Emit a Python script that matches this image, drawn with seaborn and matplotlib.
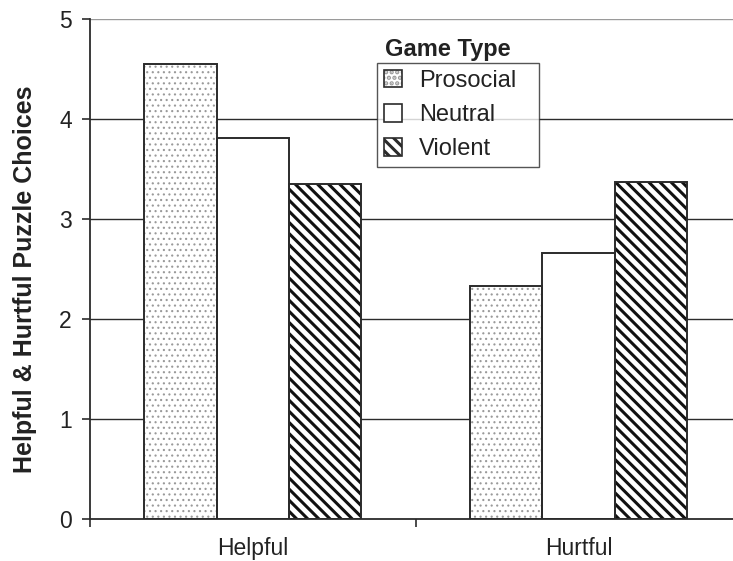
import matplotlib
matplotlib.use("Agg")
import matplotlib.pyplot as plt
from matplotlib.patches import Patch
from matplotlib import colors as mcolors
import seaborn as sns
import pandas as pd

categories = ["Helpful", "Hurtful"]
game_types = ["Prosocial", "Neutral", "Violent"]
prosocial = [4.55, 2.33]
neutral = [3.81, 2.66]
violent = [3.35, 3.37]
y_ticks = [0, 1, 2, 3, 4, 5]

rows = []
for gt, vals in zip(game_types, [prosocial, neutral, violent]):
    for c, v in zip(categories, vals):
        rows.append({"Choice": c, "Game Type": gt, "value": v})
df = pd.DataFrame(rows)

sns.set_theme(style="white")
plt.rcParams["font.family"] = ["Liberation Sans", "DejaVu Sans"]
plt.rcParams["hatch.linewidth"] = 2.2

dark = "#2b2b2b"
fig = plt.figure(figsize=(7.33, 5.61), dpi=100)
ax = fig.add_axes([90 / 733, (561 - 519.3) / 561, 1 - 90 / 733, 500 / 561])

# gridlines
for t in y_ticks[1:]:
    ax.axhline(t, color=dark if t < 5 else "#9a9a9a", lw=1.0, zorder=0)

hatches = {"Prosocial": "...", "Neutral": "", "Violent": "\\\\\\"}
hatch_cols = {"Prosocial": "#9a9a9a", "Neutral": "white", "Violent": "#111111"}
hatch_lws = {"Prosocial": 0.8, "Neutral": 1.0, "Violent": 2.2}

sns.barplot(data=df, x="Choice", y="value", hue="Game Type", order=categories,
            hue_order=game_types, palette=["white"] * 3, width=0.667, gap=0,
            linewidth=0, legend=False, errorbar=None, ax=ax, zorder=2)
for gt, cont in zip(game_types, ax.containers):
    for p in cont:
        p.set_hatch(hatches[gt])
        p.set_edgecolor(hatch_cols[gt])
        p.set_linewidth(0)
        if hasattr(p, "set_hatch_linewidth"):
            p.set_hatch_linewidth(hatch_lws[gt])

sns.barplot(data=df, x="Choice", y="value", hue="Game Type", order=categories,
            hue_order=game_types, palette=[dark] * 3, width=0.667, gap=0,
            fill=False, linewidth=1.4, legend=False, errorbar=None, ax=ax, zorder=3)

ax.set_yticks(y_ticks)
ax.set_yticklabels([str(t) for t in y_ticks])
ax.set_xticks([0, 1])
ax.set_xticklabels(categories)
ax.set_xticks([-0.5, 0.5, 1.5], minor=True)
ax.set_xlim(-0.5, 1.474)
ax.set_ylim(0, 5)
ax.tick_params(axis="x", which="major", length=0, pad=13, labelsize=16.5, colors="#222222")
ax.tick_params(axis="x", which="minor", length=6, width=1.2, color=dark, direction="out", bottom=True)
ax.tick_params(axis="y", length=6, width=1.2, color=dark, direction="out", pad=7,
               labelsize=16.5, labelcolor="#222222", left=True)
ax.set_xlabel("")
ax.set_ylabel("Helpful & Hurtful Puzzle Choices", fontsize=18, fontweight="bold",
              color="#222222")
ax.yaxis.set_label_coords(-0.082, 0.48)

for s in ["top", "right"]:
    ax.spines[s].set_visible(False)
for s in ["left", "bottom"]:
    ax.spines[s].set_color(dark)
    ax.spines[s].set_linewidth(1.3)

handles = []
for g in game_types:
    h = Patch(facecolor="white", edgecolor=dark, hatch=hatches[g], lw=1.2, label=g)
    if hasattr(h, "set_hatch_linewidth"):
        h.set_hatch_linewidth(0.8 if g == "Prosocial" else 2.2)
    handles.append(h)
leg = ax.legend(handles=handles, loc="upper left",
                bbox_to_anchor=(0.4463, 0.7066, 0.2524, 0.2066), mode="expand",
                borderaxespad=0, fontsize=17, frameon=True, fancybox=False,
                edgecolor=dark, handlelength=0.76, handleheight=0.76,
                handletextpad=0.72, labelspacing=0.52, borderpad=0.3)
leg.get_frame().set_linewidth(1.0)
for t in leg.get_texts():
    t.set_color("#222222")
leg.set_zorder(5)
# lighter dots in the Prosocial legend key, as in the bars
lp = leg.get_patches()[0]
if hasattr(lp, "set_hatchcolor"):
    lp.set_hatchcolor("#9a9a9a")
else:
    lp._hatch_color = mcolors.to_rgba("#9a9a9a")

ax.text(0.4588, 0.9266, "Game Type", transform=ax.transAxes, fontsize=17,
        fontweight="bold", va="baseline", ha="left", color="#222222")

fig.savefig("out.png", dpi=100)
